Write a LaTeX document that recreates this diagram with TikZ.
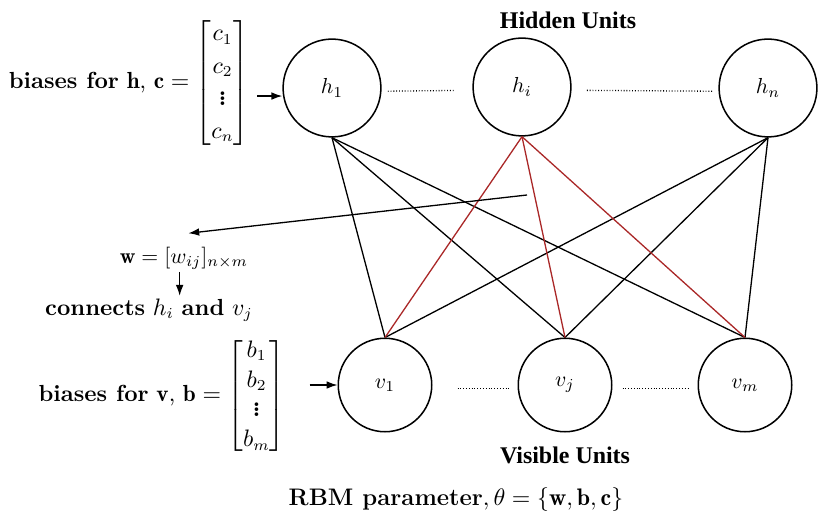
\documentclass[tikz,border=0pt]{standalone}
\usepackage{amsmath,amssymb}
\usepackage{fontspec}
\newfontfamily\unitfont{Liberation Serif}
\usepackage{xcolor}
\usepackage{tikz}
\usetikzlibrary{positioning,arrows.meta}
\definecolor{wred}{RGB}{170,40,40}
\newcommand{\bdots}{\vbox{\baselineskip2.3pt\lineskiplimit0pt\hbox{\bfseries .}\hbox{\bfseries .}\hbox{\bfseries .}}}

\begin{document}
\begin{tikzpicture}[x=0.46pt, y=-0.46pt,
  hunit/.style={draw, circle, line width=0.7pt, minimum size=45pt, inner sep=0pt},
  vunit/.style={draw, circle, line width=0.7pt, minimum size=43pt, inner sep=0pt},
  link/.style={line width=0.6pt},
  redlink/.style={line width=0.6pt, draw=wred},
  dotline/.style={line width=0.6pt, dash pattern=on 0.4pt off 0.9pt},
  arr/.style={-{Latex[length=5pt,width=3.5pt]}, line width=0.6pt},
  lbl/.style={inner sep=1pt, align=center, font=\fontsize{10.7}{13}\selectfont},
  unitlbl/.style={font=\unitfont\fontsize{11}{13}\selectfont\bfseries}
]
\useasboundingbox (0,0) rectangle (828,519);

\node[hunit] (h1) at (332,88) {$h_1$};
\node[hunit] (hi) at (522,87) {$h_i$};
\node[hunit] (hn) at (768,88) {$h_n$};
\node[vunit] (v1) at (385,385) {$v_1$};
\node[vunit] (vj) at (565,385) {$v_j$};
\node[vunit] (vm) at (745,385) {$v_m$};

\node[unitlbl] (hidlbl) at (568,20) {Hidden Units};
\node[unitlbl] (vislbl) at (565,455) {Visible Units};

\draw[dotline, shorten <=2.8pt, shorten >=8pt] ([yshift=-1.5pt]h1.east) -- ([yshift=-1.5pt]hi.west);
\draw[dotline, shorten <=7pt, shorten >=2.3pt] ([yshift=-1.5pt]hi.east) -- ([yshift=-1.5pt]hn.west);
\draw[dotline, shorten <=11.5pt, shorten >=3pt] ([yshift=-1.5pt]v1.east) -- ([yshift=-1.5pt]vj.west);
\draw[dotline, shorten <=4.6pt, shorten >=4pt] ([yshift=-1.5pt]vj.east) -- ([yshift=-1.5pt]vm.west);

\foreach \a in {h1,hn}
  \foreach \b in {v1,vj,vm}
    \draw[link] (\a.south) -- (\b.north);
\foreach \b in {v1,vj,vm}
  \draw[redlink] (hi.south) -- (\b.north);

\node[lbl] (hbias) at (129,83) {\textbf{biases for} $\mathbf{h}$, $\mathbf{c} =
  {\renewcommand{\arraystretch}{1.15}\begin{bmatrix} c_1\\ c_2\\ \bdots\\ c_n \end{bmatrix}}$};
\node[lbl] (vbias) at (162,396) {\textbf{biases for} $\mathbf{v}$, $\mathbf{b} =
  {\renewcommand{\arraystretch}{1.05}\begin{bmatrix} b_1\\ b_2\\ \bdots\\ b_m \end{bmatrix}}$};
\node[lbl, font=\normalsize] (wlbl) at (184,258) {$\mathbf{w} = [w_{ij}]_{n\times m}$};
\node[lbl] (conn) at (149,310) {\textbf{connects} $h_i$ \textbf{and} $v_j$};
\node[lbl, font=\fontsize{11}{13}\selectfont] (theta) at (456,500) {\textbf{RBM parameter}$,\theta = \{\mathbf{w},\mathbf{b},\mathbf{c}\}$};

\coordinate (harr) at ([yshift=-3.7pt]h1.west);
\draw[arr, shorten <=2.5pt] (hbias.east |- harr) -- (harr);
\draw[arr, shorten <=10pt] (vbias.east |- v1.west) -- (v1.west);

\coordinate (wsrc) at (527,195);
\draw[arr] (wsrc) -- ([xshift=2pt,yshift=5pt]wlbl.north);
\draw[arr] ([xshift=-2pt]wlbl.south) -- ([xshift=-2pt]wlbl.south |- conn.north);
\end{tikzpicture}
\end{document}
